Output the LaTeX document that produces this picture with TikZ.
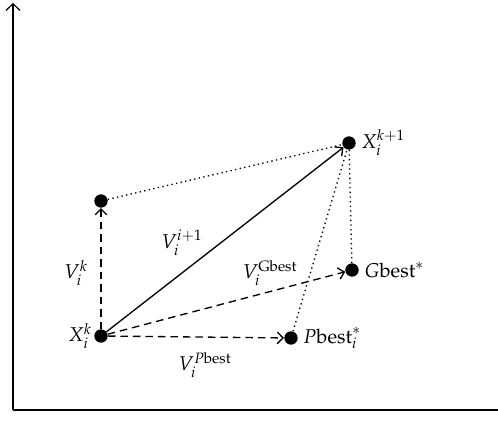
\documentclass[tikz,border=0pt]{standalone}
\usepackage{mathpazo}
\usetikzlibrary{arrows.meta,positioning}
\tikzset{
  dot/.style={circle, fill=black, inner sep=0pt, minimum size=8pt},
  tip/.style={-{Straight Barb[length=3.5pt,width=7pt]}},
  vec/.style={tip, line width=0.8pt},
  dvec/.style={tip, line width=0.8pt, dash pattern=on 4.5pt off 3pt},
  link/.style={line width=0.8pt, dotted},
  axis/.style={line width=0.7pt}
}

\begin{document}
\begin{tikzpicture}[x=0.6pt,y=-0.6pt,font=\large]
  \useasboundingbox (0,0) rectangle (498,425);
  % axes
  \coordinate (o) at (13,410);
  \coordinate (ytop) at (13,3);
  \coordinate (xend) at (498,410);
  \draw[axis,-{Straight Barb[length=4pt,width=8.5pt]}] (o) -- (ytop);
  \draw[axis] (o) -- (xend);
  % positions
  \node[dot, label={[inner sep=1pt]left:$X_i^k$}] (xk) at (101,336) {};
  \node[dot] (vk) at (101,201) {};
  \node[dot, label={[inner sep=3pt]right:$X_i^{k+1}$}] (xnew) at (349,143) {};
  \node[dot, label={[inner sep=3pt]right:$G\mathrm{best}^{*}$}] (gbest) at (352,270) {};
  \node[dot, label={[inner sep=3pt]right:$P\mathrm{best}_i^{*}$}] (pbest) at (291,338) {};
  % velocities
  \draw[dvec] (xk) -- (vk);
  \draw[vec] (xk) -- (xnew);
  \draw[dvec] (xk) -- (gbest);
  \draw[dvec] (xk) -- (pbest);
  \draw[link] (vk) -- (xnew);
  \draw[link] (pbest) -- (xnew);
  \draw[link] (gbest) -- (xnew);
  % labels
  \node (lvk) at (76,273) {$V_i^k$};
  \node (lvnew) at (182,243) {$V_i^{i+1}$};
  \node (lvg) at (270,273) {$V_i^{\mathrm{Gbest}}$};
  \node (lvp) at (205,365) {$V_i^{P\mathrm{best}}$};
\end{tikzpicture}
\end{document}
